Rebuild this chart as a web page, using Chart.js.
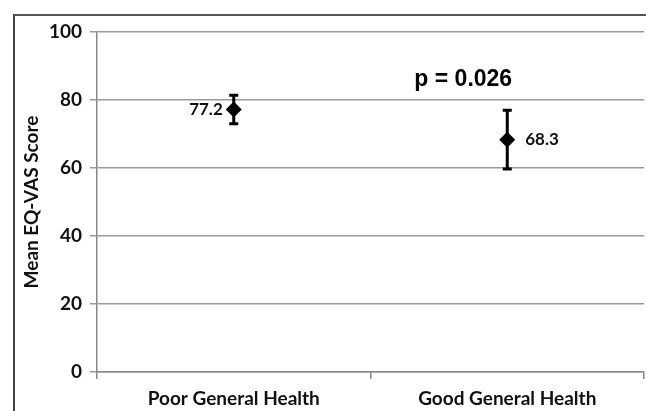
<!DOCTYPE html>
<html>
<head>
<meta charset="utf-8">
<script src="https://cdn.jsdelivr.net/npm/chart.js@4"></script>
<style>
  html, body { margin: 0; padding: 0; background: #fff; overflow: hidden; }
  #wrap { position: relative; width: 646px; height: 411px; overflow: hidden; }
  #box { position: absolute; left: 13px; top: 14px; width: 700px; height: 420px;
         border-left: 2px solid #444; border-top: 2px solid #555; }
  #cv { position: absolute; left: 0; top: 0; }
</style>
</head>
<body>
<div id="wrap">
  <div id="box"></div>
  <canvas id="cv" width="652" height="411"></canvas>
</div>
<script>
const categories = ['Poor General Health', 'Good General Health'];
const means = [77.2, 68.3];
const errHigh = [81.4, 77.0];
const errLow = [73.0, 59.7];
const yTicks = [0, 20, 40, 60, 80, 100];
const pValueText = 'p = 0.026';
const labelSide = ['left', 'right'];

const tickFont = { family: 'Lato', weight: 'bold', size: 19 };

const errorBarPlugin = {
  id: 'errorBars',
  afterDatasetsDraw(chart) {
    const ctx = chart.ctx;
    const xs = chart.scales.x, ys = chart.scales.y;
    ctx.save();
    ctx.strokeStyle = '#000';
    ctx.lineWidth = 3;
    means.forEach((m, i) => {
      const x = xs.getPixelForValue(i);
      const yh = ys.getPixelForValue(errHigh[i]);
      const yl = ys.getPixelForValue(errLow[i]);
      ctx.beginPath();
      ctx.moveTo(x, yh); ctx.lineTo(x, yl);
      ctx.moveTo(x - 4.5, yh); ctx.lineTo(x + 4.5, yh);
      ctx.moveTo(x - 4.5, yl); ctx.lineTo(x + 4.5, yl);
      ctx.stroke();
    });
    ctx.fillStyle = '#111';
    ctx.font = 'bold 17px Lato';
    ctx.textBaseline = 'middle';
    means.forEach((m, i) => {
      const x = xs.getPixelForValue(i);
      const y = ys.getPixelForValue(m);
      if (labelSide[i] === 'left') {
        ctx.textAlign = 'right';
        ctx.fillText(m.toFixed(1), x - 11, y);
      } else {
        ctx.textAlign = 'left';
        ctx.fillText(m.toFixed(1), x + 18, y);
      }
    });
    ctx.font = 'bold 23px "Liberation Sans", Arial, sans-serif';
    ctx.textAlign = 'center';
    ctx.fillStyle = '#000';
    const px = xs.getPixelForValue(1) - 44;
    ctx.fillText(pValueText, px, ys.getPixelForValue(86));
    ctx.restore();
  }
};

new Chart(document.getElementById('cv'), {
  type: 'line',
  data: {
    labels: categories,
    datasets: [{
      data: means,
      showLine: false,
      pointStyle: 'rectRot',
      pointRadius: 8,
      pointHoverRadius: 8,
      backgroundColor: '#000',
      borderColor: '#000',
      borderWidth: 0
    }]
  },
  options: {
    responsive: false,
    animation: false,
    devicePixelRatio: 1,
    layout: { padding: { left: 0, right: 1, top: 32, bottom: 0 } },
    plugins: { legend: { display: false }, tooltip: { enabled: false } },
    scales: {
      x: {
        type: 'category',
        offset: true,
        grid: { offset: true, drawOnChartArea: false, color: '#888', tickLength: 7, lineWidth: 1.5 },
        border: { color: '#888', width: 1.5 },
        ticks: { color: '#111', font: tickFont, padding: 8, maxRotation: 0 },
        afterFit(s) { s.height = 39; }
      },
      y: {
        min: 0, max: 100,
        afterBuildTicks(s) { s.ticks = yTicks.map(v => ({ value: v })); },
        grid: { color: '#999', lineWidth: 1.5, tickLength: 7 },
        border: { color: '#888', width: 1.5 },
        ticks: { color: '#111', font: tickFont, padding: 8 },
        title: { display: true, text: 'Mean EQ-VAS Score', color: '#111',
                 font: { family: 'Lato', weight: 'bold', size: 19 }, padding: { top: 20, bottom: 0 } },
        afterFit(s) { s.width = 97; }
      }
    }
  },
  plugins: [errorBarPlugin]
});
</script>
</body>
</html>
